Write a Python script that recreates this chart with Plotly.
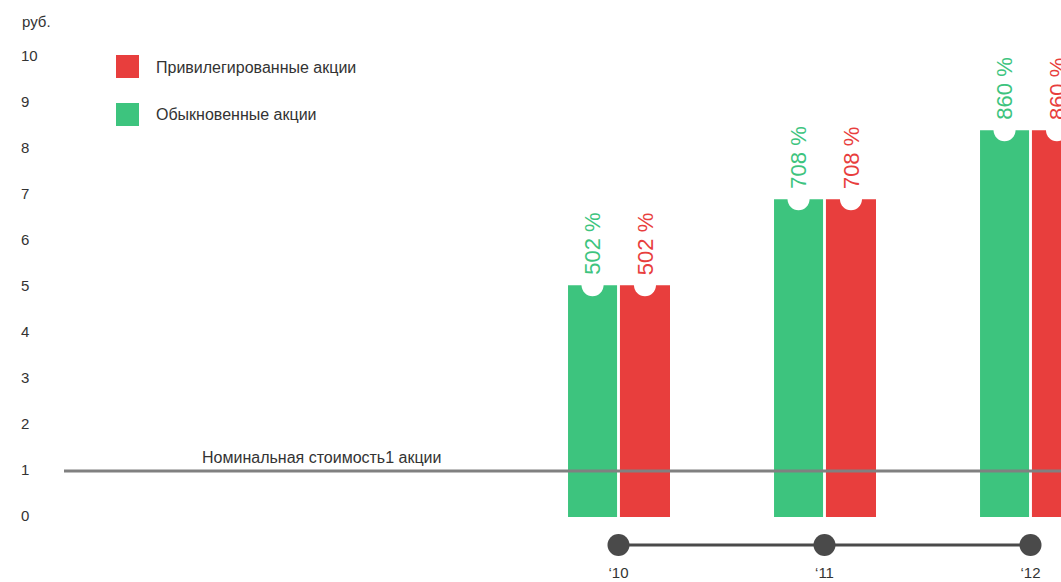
import plotly.graph_objects as go

# ---- data ----
years = [2010, 2011, 2012]
year_labels = ["\u201810", "\u201811", "\u201812"]
ordinary_values = [5.04, 6.91, 8.41]      # bar heights, руб.
preferred_values = [5.04, 6.91, 8.41]
ordinary_pct = ["502 %", "708 %", "860 %"]
preferred_pct = ["502 %", "708 %", "860 %"]
nominal_value = 1
y_ticks = list(range(0, 11))
series_names = ["Привилегированные акции", "Обыкновенные акции"]
nominal_label = "Номинальная стоимость1 акции"
unit_label = "руб."

# ---- layout constants ----
W, H = 1061, 582
L = 18                      # left margin px
PX_YEAR = 206.0             # px per year
X2010 = 618.5               # px of year 2010 group centre
PX_UNIT = 46.0              # px per rouble
ZERO_PX = 517.0             # px of value 0

GREEN = "#3dc47e"
RED = "#e83e3d"
TEXT = "#333333"
FONT = "Liberation Sans, Arial, sans-serif"


def px2year(px):
    return 2010 + (px - X2010) / PX_YEAR


def py2val(py):
    return (ZERO_PX - py) / PX_UNIT


def pxp(px):
    return (px - L) / (W - L)


def pyp(py):
    return 1 - py / H


x_range = [px2year(L), px2year(W)]
y_range = [py2val(H), py2val(0)]

G_OFF, G_W = -0.245, 0.238
R_OFF, R_W = 0.007, 0.243

fig = go.Figure()

fig.add_trace(go.Bar(x=years, y=ordinary_values, offset=G_OFF, width=G_W,
                     marker=dict(color=GREEN, line=dict(width=0)),
                     name=series_names[1], showlegend=False))
fig.add_trace(go.Bar(x=years, y=preferred_values, offset=R_OFF, width=R_W,
                     marker=dict(color=RED, line=dict(width=0)),
                     name=series_names[0], showlegend=False))

# white notches on top of bars
g_centres = [y + G_OFF + G_W / 2 for y in years]
r_centres = [y + R_OFF + R_W / 2 for y in years]
fig.add_trace(go.Scatter(x=g_centres + r_centres, y=ordinary_values + preferred_values,
                         mode="markers", marker=dict(size=22, color="white", line=dict(width=0)),
                         hoverinfo="skip", showlegend=False, cliponaxis=False))

# timeline
tl_val = py2val(545)
fig.add_trace(go.Scatter(x=years, y=[tl_val] * len(years), mode="lines+markers",
                         line=dict(color="#4a4a4a", width=3),
                         marker=dict(size=22, color="#4a4a4a"),
                         hoverinfo="skip", showlegend=False))

annotations = []
for xc, v, t in zip(g_centres, ordinary_values, ordinary_pct):
    annotations.append(dict(x=xc, y=v, text=t, textangle=-90, showarrow=False,
                            xanchor="center", yanchor="bottom", yshift=8,
                            font=dict(size=22, color=GREEN, family=FONT)))
for xc, v, t in zip(r_centres, preferred_values, preferred_pct):
    annotations.append(dict(x=xc, y=v, text=t, textangle=-90, showarrow=False,
                            xanchor="center", yanchor="bottom", yshift=8,
                            font=dict(size=22, color=RED, family=FONT)))

annotations.append(dict(x=px2year(321), y=nominal_value, text=nominal_label, showarrow=False,
                        xanchor="center", yanchor="bottom", yshift=3,
                        font=dict(size=16, color=TEXT, family=FONT)))
annotations.append(dict(xref="paper", yref="paper", x=pxp(20), y=pyp(22), text=unit_label,
                        showarrow=False, xanchor="left", yanchor="middle",
                        font=dict(size=15, color=TEXT, family=FONT)))
# legend
shapes = []
for name, col, ytop in [(series_names[0], RED, 55), (series_names[1], GREEN, 103)]:
    shapes.append(dict(type="rect", xref="paper", yref="paper",
                       x0=pxp(116), x1=pxp(139), y0=pyp(ytop + 23), y1=pyp(ytop),
                       fillcolor=col, line=dict(width=0)))
    annotations.append(dict(xref="paper", yref="paper", x=pxp(154), y=pyp(ytop + 12),
                            text=name, showarrow=False, xanchor="left", yanchor="middle",
                            font=dict(size=16, color=TEXT, family=FONT)))

# nominal value line
shapes.append(dict(type="line", xref="x", yref="y", x0=px2year(64), x1=px2year(W + 5),
                   y0=nominal_value, y1=nominal_value, line=dict(color="#808080", width=3),
                   layer="above"))

fig.update_layout(
    width=W, height=H,
    margin=dict(l=L, r=0, t=0, b=0, autoexpand=False),
    paper_bgcolor="white", plot_bgcolor="white",
    font=dict(family=FONT, color=TEXT, size=15),
    barmode="overlay",
    xaxis=dict(range=x_range, tickvals=years, ticktext=year_labels, showgrid=False,
               zeroline=False, showline=False, ticks="", anchor="free", position=pyp(562),
               automargin=False,
               tickfont=dict(size=15, color=TEXT, family=FONT), fixedrange=True),
    yaxis=dict(range=y_range, tickvals=y_ticks, ticktext=[str(t) for t in y_ticks],
               showgrid=False, zeroline=False, showline=False, ticks="",
               ticklabelposition="inside", ticklabelshift=-1, automargin=False,
               tickfont=dict(size=15, color=TEXT, family=FONT), fixedrange=True),
    annotations=annotations,
    shapes=shapes,
    showlegend=False,
)

fig.write_html("out.html", config={"displayModeBar": False},
               post_script="document.body.style.margin='0';document.body.style.overflow='hidden';")
